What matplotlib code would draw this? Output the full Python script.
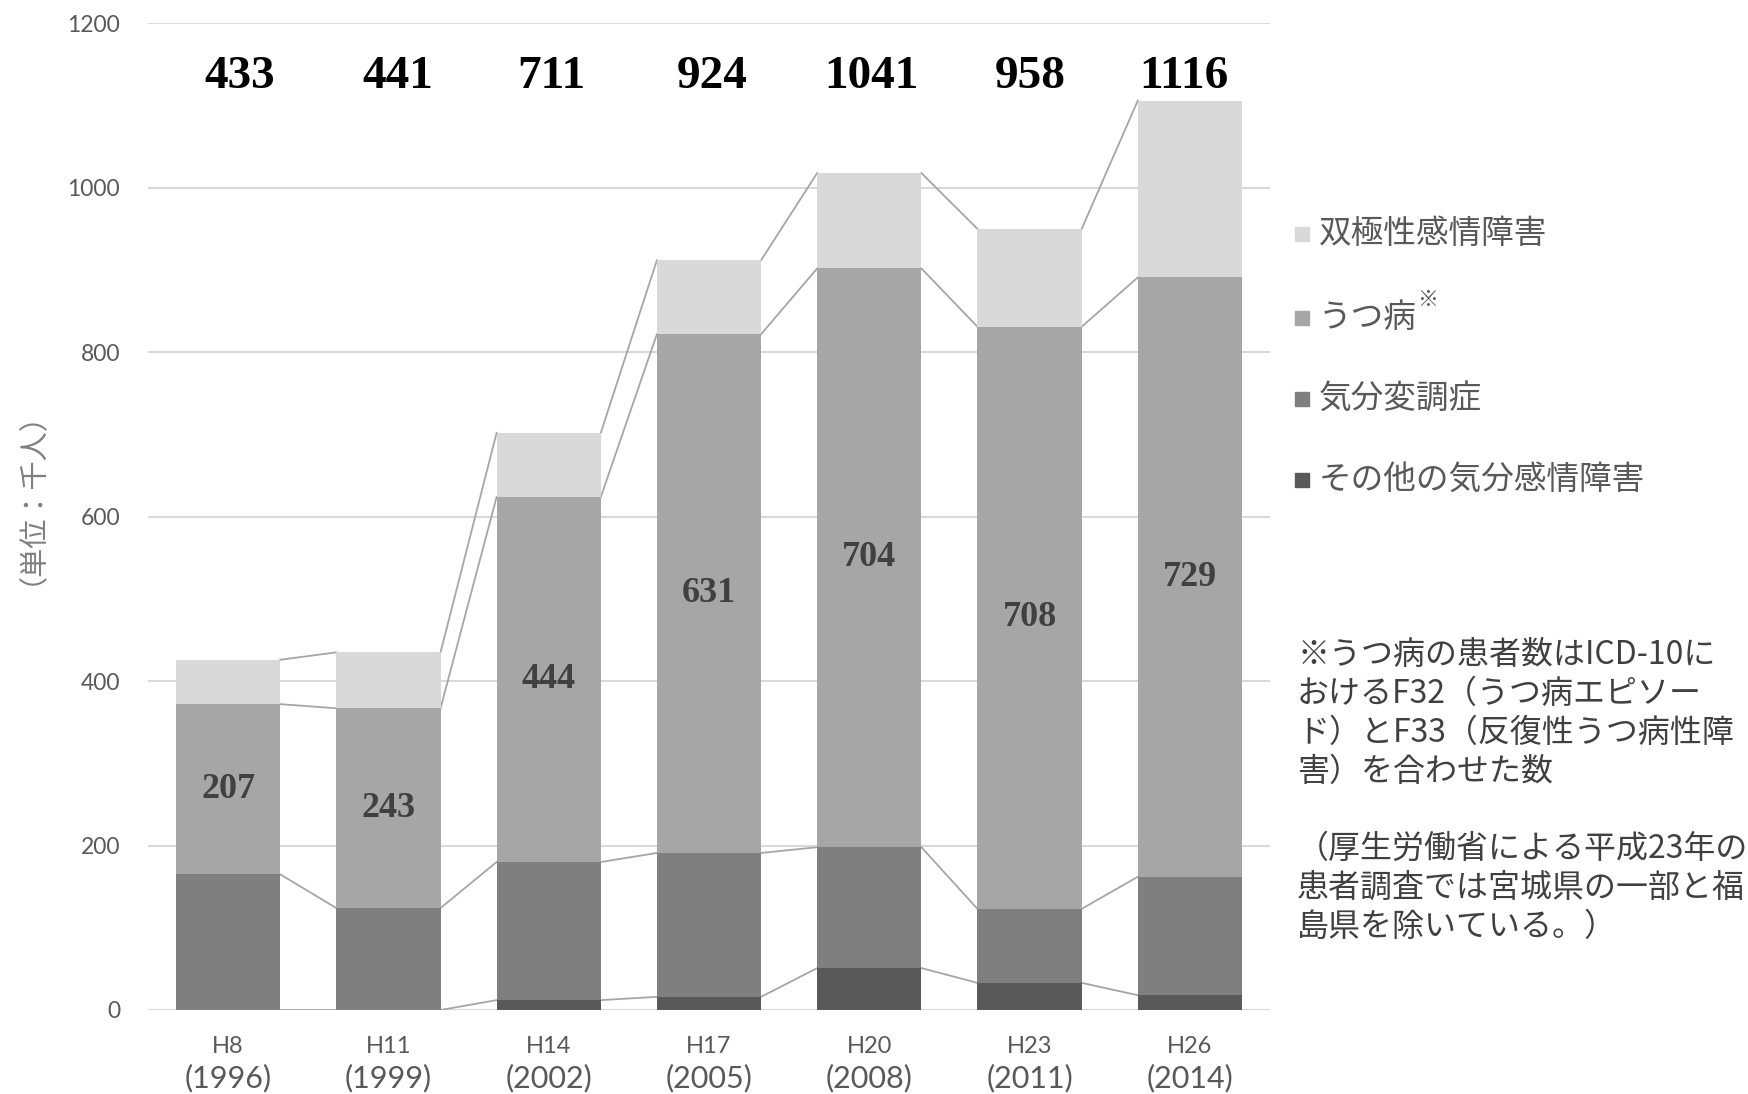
import numpy as np
import matplotlib.pyplot as plt
from matplotlib.patches import Rectangle

plt.rcParams['font.family'] = ['Noto Sans CJK JP', 'DejaVu Sans']

# 調査年（和暦と西暦）
heisei = ["H8", "H11", "H14", "H17", "H20", "H23", "H26"]
seireki = ["(1996)", "(1999)", "(2002)", "(2005)", "(2008)", "(2011)", "(2014)"]

# 患者数（千人）、下から積み上げ
sonota = [0, 0, 12, 16, 51, 33, 18]            # その他の気分感情障害
kibun_hencho = [165, 124, 168, 175, 147, 90, 144]  # 気分変調症
utsu = [207, 243, 444, 631, 704, 708, 729]     # うつ病
soukyoku = [54, 68, 78, 90, 116, 119, 215]     # 双極性感情障害
goukei = [433, 441, 711, 924, 1041, 958, 1116]  # 総数

namae = ["その他の気分感情障害", "気分変調症", "うつ病", "双極性感情障害"]
iro = ["#595959", "#7f7f7f", "#a6a6a6", "#d9d9d9"]

chuushaku = [
    "※うつ病の患者数はICD-10に",
    "おけるF32（うつ病エピソー",
    "ド）とF33（反復性うつ病性障",
    "害）を合わせた数",
    "（厚生労働省による平成23年の",
    "患者調査では宮城県の一部と福",
    "島県を除いている。）",
]

W, H = 1748, 1094
fig = plt.figure(figsize=(W / 100, H / 100), dpi=100)
ax = fig.add_axes([148 / W, 1 - 1010 / H, (1270 - 148) / W, (1010 - 23.4) / H])

x = np.arange(len(heisei))
haba = 0.65

# 積み上げ棒
bottom = np.zeros(len(x))
ruikei = []
for vals, c in zip([sonota, kibun_hencho, utsu, soukyoku], iro):
    ax.bar(x, vals, haba, bottom=bottom, color=c, zorder=2)
    bottom = bottom + np.array(vals)
    ruikei.append(bottom.copy())

# 区分線（隣の棒どうしを結ぶ）
for cum in ruikei:
    for i in range(len(x) - 1):
        ax.plot([x[i] + haba / 2, x[i + 1] - haba / 2], [cum[i], cum[i + 1]],
                color="#a6a6a6", lw=1.3, zorder=1)

# うつ病の値
for i in x:
    y0 = sonota[i] + kibun_hencho[i]
    ax.text(i, y0 + utsu[i] / 2, str(utsu[i]), ha="center", va="center",
            fontsize=26, fontweight="bold", family="Liberation Serif",
            color="#404040", zorder=3)

# 総数（テキストボックスの位置が少しずれている）
zure = [0.07, 0.056, 0.014, 0.02, 0.014, 0.007, -0.035]
for i in x:
    ax.text(i + zure[i], 1135, str(goukei[i]), ha="center", va="center",
            fontsize=34, fontweight="bold", family="Liberation Serif",
            color="black")

ax.set_xlim(-0.5, len(x) - 0.5)
ax.set_ylim(0, 1200)
ax.set_yticks(range(0, 1201, 200))
ax.yaxis.grid(True, color="#d9d9d9", lw=1.5, zorder=0)
ax.set_axisbelow(True)
for s in ax.spines.values():
    s.set_visible(False)
ax.tick_params(axis="y", length=0, pad=20, labelsize=16.5, labelcolor="#595959")
for lbl in ax.get_yticklabels():
    lbl.set_fontfamily(["Lato", "DejaVu Sans"])

# x軸ラベル（2段）
ax.set_xticks(x)
ax.set_xticklabels([])
ax.tick_params(axis="x", length=0)
tr = ax.get_xaxis_transform()
for i in x:
    ax.text(i, -0.0365, heisei[i], transform=tr, ha="center", va="center",
            fontsize=17, color="#595959", family=["Lato", "DejaVu Sans"])
    ax.text(i, -0.069, seireki[i], transform=tr, ha="center", va="center",
            fontsize=22, color="#595959", family=["Lato", "DejaVu Sans"])

fig.text(17 / W, 1 - 483 / H, "（単位：千人）", rotation=90, ha="center",
         va="center", fontsize=21, color="#808080")

# 凡例（上から双極性→その他）
hanrei_y = [234, 318, 399, 480]
for yy, n, c in zip(hanrei_y, namae[::-1], iro[::-1]):
    fig.add_artist(Rectangle(((1302 - 7) / W, 1 - (yy + 7) / H), 14 / W, 14 / H,
                             transform=fig.transFigure, color=c))
    fig.text(1319 / W, 1 - yy / H, n, ha="left", va="center",
             fontsize=23.5, color="#595959")
fig.text(1417 / W, 1 - 300 / H, "※", ha="left", va="center",
         fontsize=15, color="#595959")

# 注釈
chuushaku_y = [655, 694, 733, 772, 849, 888, 927]
for yy, line in zip(chuushaku_y, chuushaku):
    fig.text(1297 / W, 1 - yy / H, line, ha="left", va="center",
             fontsize=23, color="#404040")

fig.savefig("out.png", dpi=100)
